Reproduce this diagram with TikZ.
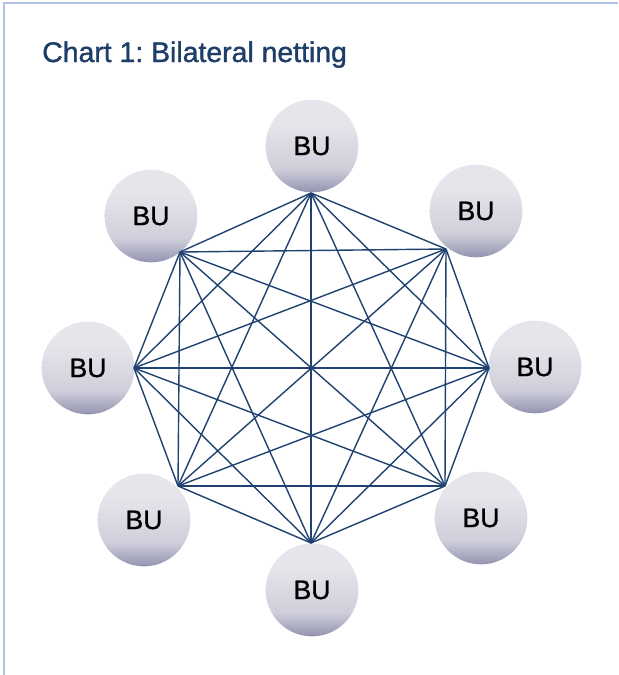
\documentclass[tikz,border=0pt]{standalone}
\usepackage{fontspec}
\setmainfont{Liberation Sans}
\newfontfamily\medfont{Liberation Sans}[FakeBold=1.2]
\frenchspacing
\usetikzlibrary{positioning}

\definecolor{netblue}{HTML}{1F4271}
\definecolor{titleblue}{HTML}{1E3E6A}
\definecolor{frameblue}{HTML}{AFC0E4}
\definecolor{butop}{HTML}{E5E5EB}
\definecolor{bumid}{HTML}{CFCFDB}
\definecolor{bubot}{HTML}{9393B0}

% light on top, darker band at the bottom
\pgfdeclareverticalshading{buball}{100bp}{color(0bp)=(bubot); color(25bp)=(bubot);
  color(38bp)=(bumid); color(62bp)=(butop); color(100bp)=(butop)}

\tikzset{
  bunode/.style={circle, minimum size=69.5pt, inner sep=0pt, shading=buball,
    font=\medfont\fontsize{20}{22}\selectfont},
  netline/.style={draw=netblue, line width=1.05pt},
  title/.style={text=titleblue, font=\medfont\fontsize{21.3}{24}\selectfont, inner sep=0pt}
}

\begin{document}
\begin{tikzpicture}[x=0.75pt, y=-0.75pt]
  \useasboundingbox (0,0) rectangle (618,675);
  \fill[white] (0,0) rectangle (618,675);
  \draw[frameblue, line width=0.8pt] (4,675) -- (4,3) -- (618,3);

  \node[title, anchor=base west] (title) at (42,62) {Chart 1: Bilateral netting};

  % the eight business units
  \foreach \n/\cx/\cy in {1/312/146, 2/476/211, 3/535/367, 4/481/518,
                          5/312/590, 6/144/520, 7/88/368, 8/151/216}
    \node[bunode] (bu\n) at (\cx,\cy) {BU};

  % corners of the netting octagon
  \coordinate (v1) at (311,193);
  \coordinate (v2) at (446,249);
  \coordinate (v3) at (489,368);
  \coordinate (v4) at (445,486);
  \coordinate (v5) at (311,543);
  \coordinate (v6) at (178,486);
  \coordinate (v7) at (134,368);
  \coordinate (v8) at (180,252);

  % every pair is linked
  \foreach \i in {1,...,7}{
    \pgfmathtruncatemacro\k{\i+1}
    \foreach \j in {\k,...,8}
      \draw[netline] (v\i) -- (v\j);
  }
\end{tikzpicture}
\end{document}
